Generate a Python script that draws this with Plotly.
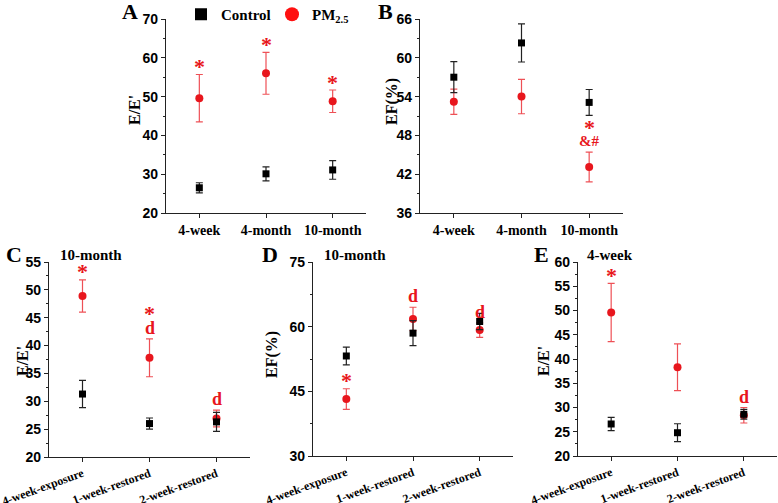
import plotly.graph_objects as go

# ---------------- data ----------------
categories_top = ["4-week", "4-month", "10-month"]
categories_bottom = ["4-week-exposure", "1-week-restored", "2-week-restored"]

A_control = [26.5, 30.1, 31.1]
A_control_err = [1.3, 1.8, 2.4]
A_pm = [49.6, 56.0, 48.8]
A_pm_err = [6.1, 5.4, 2.9]
A_marks = [["*"], ["*"], ["*"]]

B_control = [57.0, 62.3, 53.1]
B_control_err = [2.4, 2.95, 2.0]
B_pm = [53.2, 54.0, 43.1]
B_pm_err = [1.95, 2.65, 2.3]
B_marks = [[], [], ["&#", "*"]]

C_control = [31.3, 26.0, 26.3]
C_control_err = [2.45, 1.0, 1.7]
C_pm = [48.9, 37.8, 26.9]
C_pm_err = [2.9, 3.4, 1.5]
C_marks = [["*"], ["d", "*"], ["d"]]

D_control = [53.2, 58.5, 61.2]
D_control_err = [2.05, 2.9, 1.9]
D_pm = [43.2, 61.8, 59.2]
D_pm_err = [2.4, 2.7, 1.7]
D_marks = [["*"], ["d"], ["d"]]

E_control = [26.6, 24.8, 28.6]
E_control_err = [1.35, 1.85, 1.0]
E_pm = [49.6, 38.3, 28.4]
E_pm_err = [6.0, 4.8, 1.6]
E_marks = [["*"], [], ["d"]]

y_ranges = {"A": [20, 70], "B": [36, 66], "C": [20, 55], "D": [30, 75], "E": [20, 60]}
y_dticks = {"A": 10, "B": 6, "C": 5, "D": 15, "E": 5}
y_titles = {"A": "E/E'", "B": "EF(%)", "C": "E/E'", "D": "EF(%)", "E": "E/E'"}
sub_titles = {"C": "10-month", "D": "10-month", "E": "4-week"}

# ---------------- layout geometry (pixels) ----------------
W, H = 778, 503
RED = "#e8161d"
RED_ERR = "rgba(232,22,29,0.75)"
SERIF = "Liberation Serif, Times New Roman, serif"
SANS = "Liberation Sans, Arial, sans-serif"

panels = {
    "A": dict(x0=166, x1=366, ytop=19, ybot=213, cats=categories_top,
              c=A_control, ce=A_control_err, p=A_pm, pe=A_pm_err, marks=A_marks),
    "B": dict(x0=420, x1=623, ytop=19, ybot=213, cats=categories_top,
              c=B_control, ce=B_control_err, p=B_pm, pe=B_pm_err, marks=B_marks),
    "C": dict(x0=49, x1=250, ytop=262, ybot=457, cats=categories_bottom,
              c=C_control, ce=C_control_err, p=C_pm, pe=C_pm_err, marks=C_marks),
    "D": dict(x0=313, x1=513, ytop=262, ybot=456, cats=categories_bottom,
              c=D_control, ce=D_control_err, p=D_pm, pe=D_pm_err, marks=D_marks),
    "E": dict(x0=578, x1=777, ytop=262, ybot=456, cats=categories_bottom,
              c=E_control, ce=E_control_err, p=E_pm, pe=E_pm_err, marks=E_marks),
}
ytitle_px = {"A": (134, 110), "B": (392, 102), "C": (22, 361), "D": (272, 355), "E": (543, 361)}
letter_px = {"A": (130, 12), "B": (385, 12), "C": (14, 254), "D": (270, 254), "E": (541, 254)}
subtitle_px = {"C": (58, 255), "D": (322, 255), "E": (585, 255)}

fig = go.Figure()
annotations = []
layout_axes = {}

for i, (key, pn) in enumerate(panels.items()):
    n = "" if i == 0 else str(i + 1)
    xa, ya = "x" + n, "y" + n
    idx = list(range(len(pn["cats"])))
    # PM2.5 first, control on top
    fig.add_trace(go.Scatter(
        x=idx, y=pn["p"], xaxis=xa, yaxis=ya, mode="markers", showlegend=False,
        marker=dict(symbol="circle", size=8, color=RED),
        error_y=dict(type="data", array=pn["pe"], color=RED_ERR, thickness=1.2, width=3.5)))
    fig.add_trace(go.Scatter(
        x=idx, y=pn["c"], xaxis=xa, yaxis=ya, mode="markers", showlegend=False,
        marker=dict(symbol="square", size=7, color="black"),
        error_y=dict(type="data", array=pn["ce"], color="#222", thickness=1.2, width=3.5)))

    top = key in ("A", "B")
    layout_axes["xaxis" + n] = dict(
        domain=[pn["x0"] / W, pn["x1"] / W], anchor=ya, range=[-0.5, 2.5],
        tickvals=idx, ticktext=pn["cats"], tickangle=0 if top else -20,
        tickfont=dict(family=SERIF, size=14 if top else 12, color="black", weight="bold"),
        showline=True, linecolor="#222", linewidth=1.3, ticks="outside", ticklen=4,
        tickcolor="#222", showgrid=False, zeroline=False, automargin=False)
    lo, hi = y_ranges[key]
    layout_axes["yaxis" + n] = dict(
        domain=[1 - pn["ybot"] / H, 1 - pn["ytop"] / H], anchor=xa, range=[lo, hi],
        dtick=y_dticks[key], tick0=lo,
        tickfont=dict(family=SANS, size=14, color="black", weight="bold"),
        showline=True, linecolor="#222", linewidth=1.3, ticks="outside", ticklen=4,
        tickcolor="#222", showgrid=False, zeroline=False, automargin=False,
        minor=dict(ticks="outside", ticklen=2, dtick=y_dticks[key] / 2, tickcolor="#222"))

    # significance marks above the PM2.5 error bar
    for j, marks in enumerate(pn["marks"]):
        for k, m in enumerate(marks):
            size = {"*": 22, "d": 18, "&#": 15}[m]
            glyph_fix = -3 if m == "*" else 0
            annotations.append(dict(
                x=j, y=pn["p"][j] + pn["pe"][j], xref=xa, yref=ya, text=m, showarrow=False,
                yanchor="middle", yshift=11 + 17 * k + glyph_fix,
                font=dict(family=SERIF, size=size, color=RED, weight="bold")))

    tx, ty = ytitle_px[key]
    annotations.append(dict(x=tx / W, y=1 - ty / H, xref="paper", yref="paper",
                            text=y_titles[key], textangle=-90, showarrow=False,
                            xanchor="center", yanchor="middle",
                            font=dict(family=SERIF, size=16, color="black", weight="bold")))
    lx, ly = letter_px[key]
    annotations.append(dict(x=lx / W, y=1 - ly / H, xref="paper", yref="paper",
                            text=key, showarrow=False, xanchor="center", yanchor="middle",
                            font=dict(family=SERIF, size=22, color="black", weight="bold")))
    if key in sub_titles:
        sx, sy = subtitle_px[key]
        annotations.append(dict(x=sx / W, y=1 - sy / H, xref="paper", yref="paper",
                                text=sub_titles[key], showarrow=False,
                                xanchor="left", yanchor="middle",
                                font=dict(family=SERIF, size=15, color="black", weight="bold")))

# legend-only traces
fig.add_trace(go.Scatter(x=[None], y=[None], mode="markers", name="Control",
                         marker=dict(symbol="square", size=12, color="black")))
fig.add_trace(go.Scatter(x=[None], y=[None], mode="markers", name="PM<sub>2.5</sub>",
                         marker=dict(symbol="circle", size=14, color="#ff1010")))

fig.update_layout(
    width=W, height=H, margin=dict(l=0, r=0, t=0, b=0, autoexpand=False),
    paper_bgcolor="white", plot_bgcolor="white",
    showlegend=True,
    legend=dict(orientation="h", x=(203 - 22) / W, y=1 + 2 / H, xanchor="left", yanchor="top",
                font=dict(family=SERIF, size=15, color="black", weight="bold"),
                bgcolor="rgba(0,0,0,0)", itemwidth=30, tracegroupgap=0,
                entrywidth=46, entrywidthmode="pixels"),
    annotations=annotations,
    **layout_axes)

fig.write_html("out.html", config={"displayModeBar": False},
               post_script="document.body.style.margin='0';document.body.style.padding='0';")
